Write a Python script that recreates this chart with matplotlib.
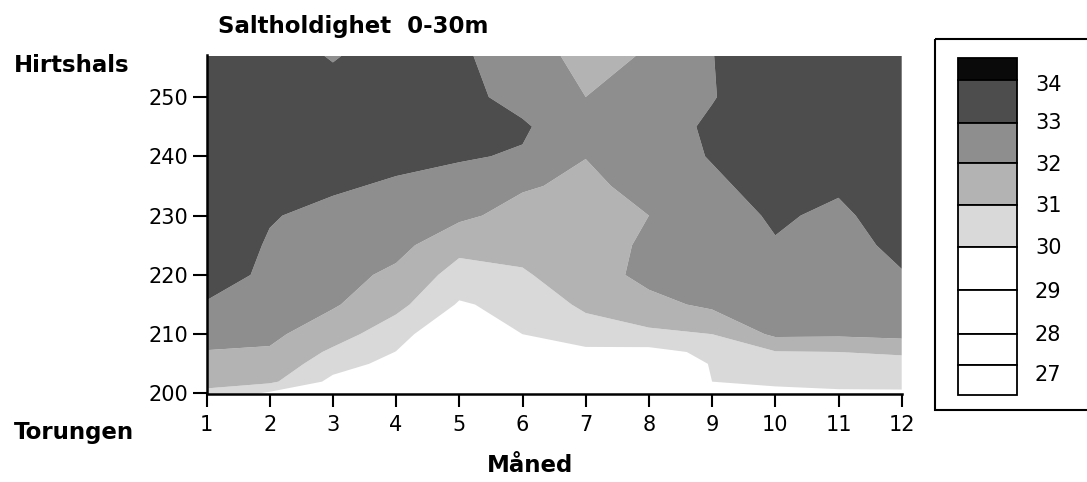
import matplotlib
matplotlib.use("Agg")
import matplotlib.pyplot as plt
from matplotlib.patches import Rectangle
import numpy as np

# months along x, station positions along the section (200 = Torungen, 257 = Hirtshals)
months = np.arange(1, 13)
pos = [200, 202, 205, 207, 210, 215, 220, 225, 230, 235, 240, 245, 250, 257]

# mean salinity 0-30 m for each month, listed from Torungen up to Hirtshals
jan = [30.85, 31.2, 31.7, 31.96, 32.35, 32.95, 33.3, 33.5, 33.6, 33.6, 33.6, 33.6, 33.6, 33.6]
feb = [29.8, 31.2, 31.7, 31.9, 32.2, 32.6, 32.87, 32.93, 33.05, 33.3, 33.5, 33.6, 33.6, 33.6]
mar = [29.3, 29.75, 30.4, 30.82, 31.45, 32.1, 32.35, 32.55, 32.8, 33.1, 33.4, 33.5, 33.5, 32.9]
apr = [28.9, 29.2, 29.7, 29.98, 30.4, 31.3, 31.8, 32.3, 32.6, 32.9, 33.2, 33.5, 33.6, 33.6]
mai = [28.4, 28.5, 28.7, 28.82, 29.0, 29.9, 30.6, 31.3, 32.2, 32.6, 33.1, 33.3, 33.35, 33.2]
jun = [28.6, 28.8, 29.2, 29.5, 30.0, 30.3, 30.9, 31.3, 31.65, 32.1, 32.9, 33.15, 32.6, 32.3]
jul = [28.7, 28.8, 29.1, 29.8, 30.5, 31.2, 31.5, 31.45, 31.55, 31.8, 32.02, 32.15, 32.0, 31.8]
aug = [28.9, 29.0, 29.3, 29.7, 30.8, 31.7, 32.3, 32.2, 32.0, 32.3, 32.6, 32.55, 32.4, 32.05]
sep = [29.9, 30.0, 30.05, 30.2, 31.0, 32.2, 32.3, 32.5, 32.65, 32.85, 33.05, 33.15, 32.95, 32.98]
okt = [29.7, 30.2, 30.55, 30.95, 32.2, 32.4, 32.7, 32.95, 33.1, 33.3, 33.5, 33.6, 33.6, 33.6]
nov = [29.8, 30.35, 30.65, 31.0, 32.15, 32.3, 32.5, 32.7, 32.85, 33.1, 33.4, 33.6, 33.6, 33.6]
des = [29.8, 30.4, 30.75, 31.1, 32.3, 32.5, 32.95, 33.2, 33.4, 33.5, 33.6, 33.6, 33.6, 33.6]

# contour classes and their grey shades
levels = [20, 30, 31, 32, 33, 34, 40]
shades = ['white', '#d9d9d9', '#b3b3b3', '#8e8e8e', '#4d4d4d', '#0a0a0a']

# legend entries (top to bottom)
legend_labels = [34, 33, 32, 31, 30, 29, 28, 27]
legend_shades = ['#0a0a0a', '#4d4d4d', '#8e8e8e', '#b3b3b3', '#d9d9d9',
                 'white', 'white', 'white', 'white']

sal = np.array([jan, feb, mar, apr, mai, jun, jul, aug, sep, okt, nov, des]).T

W, H = 1087, 482
fig = plt.figure(figsize=(W / 100, H / 100), dpi=100)
ax = fig.add_axes([206.5 / W, 1 - 393.5 / H, 695.2 / W, 338 / H])

ax.contourf(months, pos, sal, levels=levels, colors=shades, antialiased=True)

ax.set_xlim(1, 12)
ax.set_ylim(200, 257)
ax.set_xticks(months)
ax.set_yticks([200, 210, 220, 230, 240, 250])
ax.spines['top'].set_visible(False)
ax.spines['right'].set_visible(False)
ax.spines['left'].set_linewidth(1.8)
ax.spines['bottom'].set_linewidth(1.8)
ax.tick_params(axis='x', length=9.5, width=1.5, pad=6, labelsize=15)
ax.tick_params(axis='y', length=10, width=1.5, pad=3, labelsize=15)

bold = dict(fontsize=16.5, fontweight='bold', va='center')
fig.text(218 / W, 1 - 26 / H, 'Saltholdighet  0-30m', ha='left', **bold)
fig.text(14 / W, 1 - 66 / H, 'Hirtshals', ha='left', **bold)
fig.text(14 / W, 1 - 432 / H, 'Torungen', ha='left', **bold)
fig.text(530 / W, 1 - 466 / H, 'Måned', ha='center', **bold)

# legend drawn on a pixel-space overlay
lax = fig.add_axes([0, 0, 1, 1])
lax.set_xlim(0, W)
lax.set_ylim(H, 0)
lax.axis('off')
lax.add_patch(Rectangle((935, 39), 170, 371, fill=False, lw=1.5, ec='black'))
edges = [58, 80, 123, 163, 205, 247, 290, 334, 365, 395]
for i, c in enumerate(legend_shades):
    lax.add_patch(Rectangle((958, edges[i]), 59, edges[i + 1] - edges[i],
                            fc=c, ec='black', lw=1.3))
label_y = [85, 123, 165, 206, 248, 292, 335, 375]
for lab, y in zip(legend_labels, label_y):
    lax.text(1035, y, str(lab), fontsize=15, va='center', ha='left')

fig.savefig('out.png', dpi=100)
